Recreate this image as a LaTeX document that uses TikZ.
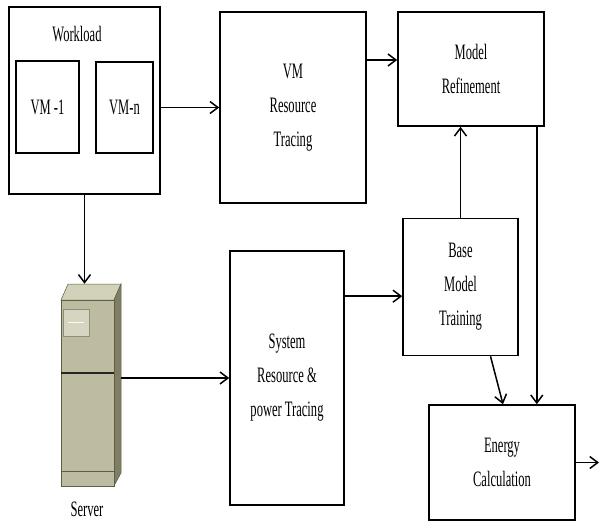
\documentclass[tikz,border=0pt]{standalone}
\usepackage{fontspec}
\setmainfont{Liberation Serif}[FakeStretch=0.57]
\usetikzlibrary{arrows.meta}
\definecolor{srvfront}{HTML}{BDBBA0}
\definecolor{srvtop}{HTML}{D2D1BA}
\definecolor{srvside}{HTML}{7F7E62}
\definecolor{srvpanel}{HTML}{D6D5C2}
\definecolor{srvedge}{HTML}{5E5D48}
\tikzset{
  blk/.style={draw, line width=1.6pt, align=center, inner sep=0pt,
    font=\fontsize{22}{34}\selectfont},
  conn/.style={line width=1.5pt, -{Straight Barb[length=8pt,width=12pt,line width=1.5pt]}},
  txt/.style={font=\fontsize{22}{34}\selectfont, inner sep=0pt}
}
\begin{document}
\begin{tikzpicture}[x=1pt, y=-1pt]
  \useasboundingbox (0,0) rectangle (600,522);
  \node[blk, minimum width=151pt, minimum height=187pt] (workload) at (84.5,100.5) {};
  \node[txt] (wltitle) at (77,34) {Workload};
  \node[blk, minimum width=63pt, minimum height=92pt] (vmone) at (47.5,107) {VM -1};
  \node[blk, minimum width=57pt, minimum height=91pt] (vmn) at (124.5,107.5) {VM-n};
  \node[blk, minimum width=146pt, minimum height=191pt] (vmtrace) at (293,107.5) {VM\\Resource\\Tracing};
  \node[blk, minimum width=146pt, minimum height=114pt] (refine) at (471,69) {Model\\Refinement};
  \node[blk, minimum width=115pt, minimum height=137pt] (base) at (460.5,287) {Base\\Model\\Training};
  \node[blk, minimum width=146pt, minimum height=115pt] (energy) at (502,462.5) {Energy\\Calculation};
  \node[blk, minimum width=114pt, minimum height=254pt] (systrace) at (287,378) {System\\Resource \&\\power Tracing};
  \node[minimum width=60pt, minimum height=202pt, inner sep=0pt] (server) at (91,385) {};
  \node[txt] (srvlabel) at (87,509) {Server};
  \coordinate (out) at (599,462.5);

  \filldraw[fill=srvtop, draw=srvedge, line width=0.5pt] (61,300) -- (68,284) -- (121,284) -- (114,300) -- cycle;
  \filldraw[fill=srvside, draw=srvedge, line width=0.5pt] (114,300) -- (121,284) -- (121,473) -- (114,486) -- cycle;
  \filldraw[fill=srvfront, draw=srvedge, line width=0.5pt] (61,300) rectangle (114,486);
  \draw[srvedge, line width=0.5pt] (61,471) -- (114,471);
  \filldraw[fill=srvpanel, draw=srvedge!70, line width=0.5pt] (63,309) rectangle (89,336);
  \draw[white!85!srvpanel, line width=1pt] (68,322) -- (84,322);
  \draw[black!85, line width=2pt] (61,373) -- (114,373);

  \draw[conn] (workload.east |- vmtrace.west) -- (vmtrace.west);
  \draw[conn] (workload.south) -- (workload.south |- server.north);
  \draw[conn] (server.east |- systrace.west) -- (systrace.west);
  \draw[conn] ([yshift=9pt]vmtrace.east |- refine.west) -- ([yshift=9pt]refine.west);
  \draw[conn] ([yshift=-46pt]systrace.north east) coordinate (s1) -- (s1 -| base.west);
  \draw[conn] (base.north) -- (refine.south -| base.north);
  \draw[conn] ([xshift=-8pt]refine.south east) -- ([xshift=-8pt]refine.south east |- energy.north);
  \draw[conn] ([xshift=30pt]base.south) -- ([xshift=1pt]energy.north);
  \draw[conn] (energy.east) -- (out);
\end{tikzpicture}
\end{document}
